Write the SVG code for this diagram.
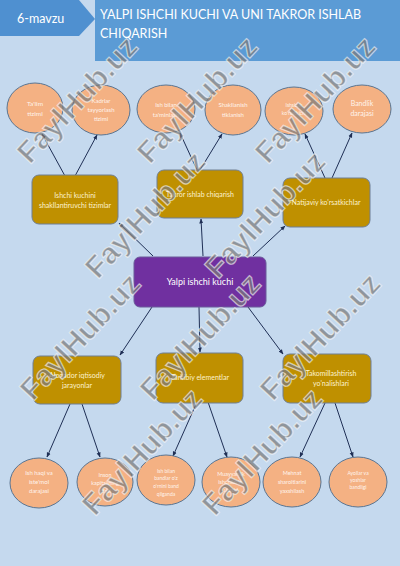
<svg xmlns="http://www.w3.org/2000/svg" width="400" height="566" viewBox="0 0 400 566">
<defs>
<marker id="ah" viewBox="0 0 10 10" refX="9" refY="5" markerWidth="5" markerHeight="5" orient="auto-start-reverse" markerUnits="userSpaceOnUse">
<path d="M0,1 L10,5 L0,9 z" fill="#1f2f55"/>
</marker>
<style>
.bg{fill:#c5d9ee}
.ell{fill:#f4b183;stroke:#5b7591;stroke-width:1}
.box{fill:#bf9000;stroke:#6f7f93;stroke-width:1}
.ctr{fill:#7030a0;stroke:#6a5a9a;stroke-width:1}
.et{font-family:Lato,"Liberation Sans",sans-serif;fill:#fff4ec;text-anchor:middle}
.bt{font-family:Lato,"Liberation Sans",sans-serif;fill:#fdf2cf;text-anchor:middle;font-size:7px}
.hd{font-family:Lato,"Liberation Sans",sans-serif;fill:#fff}
.cn{stroke:#1f2f55;stroke-width:1;fill:none;marker-end:url(#ah)}
.wm{font-family:"Liberation Sans",Arial,sans-serif;font-weight:bold;font-size:30px;fill:#7b7b7b;fill-opacity:0.72;stroke:#ffffff;stroke-opacity:0.6;stroke-width:1.2}
</style>
</defs>
<rect class="bg" x="0" y="0" width="400" height="566"/>

<g id="header">
<polygon points="0,0 79,0 95,19 79,36 0,36" fill="#4f90d0"/>
<text class="hd" x="17" y="23" font-size="12.5">6-mavzu</text>
<rect x="95" y="0" width="305" height="61" fill="#5b9bd5"/>
<text class="hd" x="100" y="19" font-size="12.5">YALPI ISHCHI KUCHI VA UNI TAKROR ISHLAB</text>
<text class="hd" x="100" y="38" font-size="12.5">CHIQARISH</text>
</g>

<g id="connectors">
<line class="cn" x1="153" y1="256" x2="119" y2="223"/>
<line class="cn" x1="203" y1="256" x2="201" y2="219"/>
<line class="cn" x1="253" y1="256" x2="285" y2="226"/>
<line class="cn" x1="152" y1="307" x2="120" y2="355"/>
<line class="cn" x1="199" y1="307" x2="200" y2="352"/>
<line class="cn" x1="248" y1="307" x2="283" y2="354"/>
<line class="cn" x1="65" y1="176" x2="42" y2="134"/>
<line class="cn" x1="75" y1="176" x2="97" y2="135"/>
<line class="cn" x1="197" y1="170" x2="180" y2="133"/>
<line class="cn" x1="200" y1="170" x2="222" y2="134"/>
<line class="cn" x1="325" y1="178" x2="305" y2="134"/>
<line class="cn" x1="332" y1="178" x2="352" y2="133"/>
<line class="cn" x1="70" y1="404" x2="47" y2="457"/>
<line class="cn" x1="82" y1="404" x2="100" y2="457"/>
<line class="cn" x1="197" y1="402" x2="173" y2="456"/>
<line class="cn" x1="208" y1="402" x2="227" y2="457"/>
<line class="cn" x1="325" y1="403" x2="300" y2="457"/>
<line class="cn" x1="335" y1="403" x2="353" y2="457"/>
</g>

<g id="e1"><ellipse class="ell" cx="35" cy="108" rx="28" ry="25"/>
<text class="et" font-size="6.5"><tspan x="35" y="106">Ta'lim</tspan><tspan x="35" y="116">tizimi</tspan></text></g>
<g id="e2"><ellipse class="ell" cx="101" cy="110" rx="29" ry="25"/>
<text class="et" font-size="6"><tspan x="101" y="103">Kadrlar</tspan><tspan x="101" y="112">tayyorlash</tspan><tspan x="101" y="121">tizimi</tspan></text></g>
<g id="e3"><ellipse class="ell" cx="166" cy="109" rx="29" ry="24"/>
<text class="et" font-size="6"><tspan x="166" y="107">Ish bilan</tspan><tspan x="166" y="117">ta'minlash</tspan></text></g>
<g id="e4"><ellipse class="ell" cx="233" cy="110" rx="28" ry="25"/>
<text class="et" font-size="6"><tspan x="233" y="107">Shakllanish</tspan><tspan x="233" y="117">tiklanish</tspan></text></g>
<g id="e5"><ellipse class="ell" cx="294" cy="111" rx="29" ry="24"/>
<text class="et" font-size="5"><tspan x="294" y="107">Ishsizlik</tspan><tspan x="294" y="115">ko'rsatkichi</tspan></text></g>
<g id="e6"><ellipse class="ell" cx="362" cy="109" rx="29" ry="24"/>
<text class="et" font-size="7"><tspan x="362" y="106">Bandlik</tspan><tspan x="362" y="116">darajasi</tspan></text></g>

<g id="b1"><rect class="box" x="32" y="175" width="86" height="49" rx="7"/>
<text class="bt"><tspan x="75" y="198">Ishchi kuchini</tspan><tspan x="75" y="208">shakllantiruvchi tizimlar</tspan></text></g>
<g id="b2"><rect class="box" x="157" y="170" width="86" height="48" rx="7"/>
<text class="bt" x="200" y="197">Takror ishlab chiqarish</text></g>
<g id="b3"><rect class="box" x="283" y="178" width="87" height="49" rx="7"/>
<text class="bt" x="326" y="205">Natijaviy ko'rsatkichlar</text></g>

<g id="center"><rect class="ctr" x="134" y="257" width="132" height="50" rx="6"/>
<text class="hd" x="200" y="285" font-size="9" text-anchor="middle">Yalpi ishchi kuchi</text></g>

<g id="b4"><rect class="box" x="33" y="356" width="88" height="48" rx="7"/>
<text class="bt"><tspan x="77" y="378">Aloqador iqtisodiy</tspan><tspan x="77" y="388">jarayonlar</tspan></text></g>
<g id="b5"><rect class="box" x="156" y="353" width="87" height="50" rx="7"/>
<text class="bt" x="200" y="380">Tarkibiy elementlar</text></g>
<g id="b6"><rect class="box" x="283" y="354" width="88" height="49" rx="7"/>
<text class="bt"><tspan x="331" y="376">Takomillashtirish</tspan><tspan x="331" y="386">yo'nalishlari</tspan></text></g>

<g id="e7"><ellipse class="ell" cx="39" cy="483" rx="29" ry="25"/>
<text class="et" font-size="6"><tspan x="39" y="475">Ish haqi va</tspan><tspan x="39" y="484">iste'mol</tspan><tspan x="39" y="493">darajasi</tspan></text></g>
<g id="e8"><ellipse class="ell" cx="105" cy="482" rx="28" ry="24"/>
<text class="et" font-size="5.5"><tspan x="105" y="477">Inson</tspan><tspan x="105" y="485">kapitalining</tspan><tspan x="105" y="493">sifati</tspan></text></g>
<g id="e9"><ellipse class="ell" cx="166" cy="480" rx="29" ry="25"/>
<text class="et" font-size="5"><tspan x="166" y="473">Ish bilan</tspan><tspan x="166" y="480">bandlar o'z</tspan><tspan x="166" y="488">o'rnini band</tspan><tspan x="166" y="496">qilganda</tspan></text></g>
<g id="e10"><ellipse class="ell" cx="231" cy="482" rx="29" ry="25"/>
<text class="et" font-size="5.5"><tspan x="231" y="476">Muayyanlik</tspan><tspan x="231" y="484">ishchilarini</tspan><tspan x="231" y="492">ulushi</tspan></text></g>
<g id="e11"><ellipse class="ell" cx="292" cy="482" rx="29" ry="25"/>
<text class="et" font-size="5.5"><tspan x="292" y="475">Mehnat</tspan><tspan x="292" y="484">sharoitlarini</tspan><tspan x="292" y="493">yaxshilash</tspan></text></g>
<g id="e12"><ellipse class="ell" cx="358" cy="482" rx="29" ry="25"/>
<text class="et" font-size="5"><tspan x="358" y="475">Ayollar va</tspan><tspan x="358" y="482">yoshlar</tspan><tspan x="358" y="489">bandligi</tspan></text></g>

<g id="watermark">
<text class="wm" transform="translate(30,165) rotate(-47)">FaylHub.uz</text>
<text class="wm" transform="translate(150,165) rotate(-47)">FaylHub.uz</text>
<text class="wm" transform="translate(268,165) rotate(-47)">FaylHub.uz</text>
<text class="wm" transform="translate(98,280) rotate(-47)">FaylHub.uz</text>
<text class="wm" transform="translate(218,280) rotate(-47)">FaylHub.uz</text>
<text class="wm" transform="translate(33,402) rotate(-47)">FaylHub.uz</text>
<text class="wm" transform="translate(153,402) rotate(-47)">FaylHub.uz</text>
<text class="wm" transform="translate(273,402) rotate(-47)">FaylHub.uz</text>
<text class="wm" transform="translate(95,517) rotate(-47)">FaylHub.uz</text>
<text class="wm" transform="translate(215,517) rotate(-47)">FaylHub.uz</text>
</g>
</svg>
